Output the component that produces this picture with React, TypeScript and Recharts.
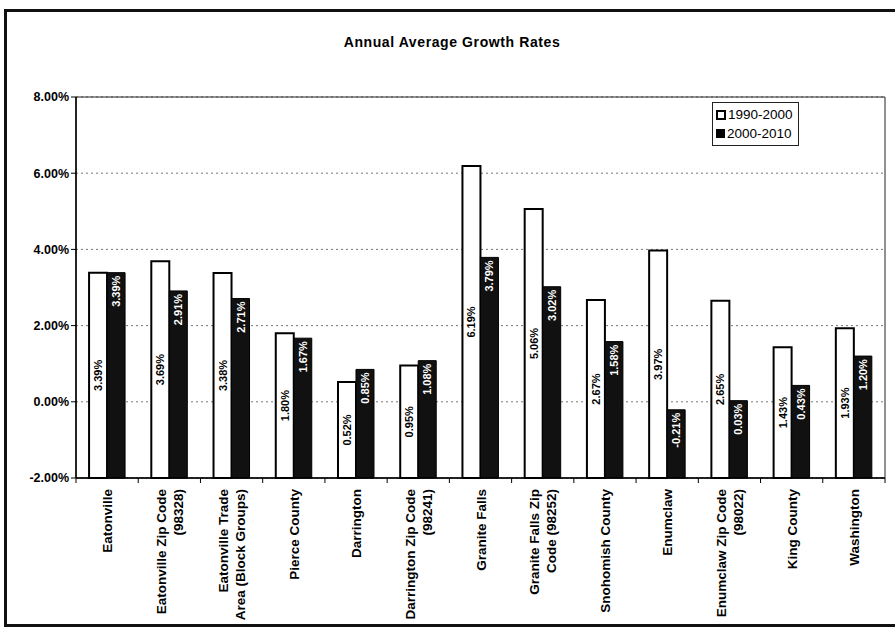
import { BarChart, Bar, XAxis, YAxis, CartesianGrid, LabelList, Legend, ReferenceArea } from "recharts";

// categories, each split into the lines shown under the axis
const placeLines: string[][] = [
  ["Eatonville"],
  ["Eatonville Zip Code", "(98328)"],
  ["Eatonville Trade", "Area (Block Groups)"],
  ["Pierce County"],
  ["Darrington"],
  ["Darrington Zip Code", "(98241)"],
  ["Granite Falls"],
  ["Granite Falls Zip", "Code (98252)"],
  ["Snohomish County"],
  ["Enumclaw"],
  ["Enumclaw Zip Code", "(98022)"],
  ["King County"],
  ["Washington"],
];
const places = placeLines.map((l) => l.join(" "));

const growth1990s = [3.39, 3.69, 3.38, 1.8, 0.52, 0.95, 6.19, 5.06, 2.67, 3.97, 2.65, 1.43, 1.93];
const growth2000s = [3.39, 2.91, 2.71, 1.67, 0.85, 1.08, 3.79, 3.02, 1.58, -0.21, 0.03, 0.43, 1.2];

const yTicks = [-2, 0, 2, 4, 6, 8];
const seriesNames = ["1990-2000", "2000-2010"];

const FONT = "'Liberation Sans', Arial, sans-serif";
const W = 896;
const H = 630;
const MARGIN = { top: 97, right: 11, bottom: 12, left: 14 };
const Y_AXIS_W = 62;
const X_AXIS_H = 140;
const PLOT_W = W - MARGIN.left - Y_AXIS_W - MARGIN.right;
const STEP = PLOT_W / places.length;
const FLOOR = yTicks[0];

const rows = places.map((place, i) => ({
  place,
  a: growth1990s[i],
  b: growth2000s[i],
}));

const pct = (v: number) => `${v.toFixed(2)}%`;

function PlaceTick(props: any) {
  const { x, y, index } = props;
  const lines = placeLines[index] || [];
  const lh = 17.5;
  return (
    <g>
      <line x1={x - STEP / 2} x2={x - STEP / 2} y1={y} y2={y + 5} stroke="#000" />
      {index === places.length - 1 && (
        <line x1={x + STEP / 2} x2={x + STEP / 2} y1={y} y2={y + 5} stroke="#000" />
      )}
      <text
        transform={`translate(${x},${y + 11}) rotate(-90)`}
        textAnchor="middle"
        fontSize={13.5}
        fontWeight="bold"
        fontFamily={FONT}
        fill="#000"
      >
        {lines.map((ln, i) => (
          <tspan key={i} x={0} y={(i - (lines.length - 1) / 2) * lh + 5} textAnchor="end">
            {ln}
          </tspan>
        ))}
      </text>
    </g>
  );
}

function MidLabel(props: any) {
  const { x, y, width, height, index } = props;
  const top = Math.min(y, y + height);
  const cx = x + width / 2;
  const cy = top + Math.abs(height) / 2;
  return (
    <text
      x={cx}
      y={cy}
      transform={`rotate(-90 ${cx} ${cy})`}
      textAnchor="middle"
      dominantBaseline="central"
      fontSize={11}
      fontWeight="bold"
      fontFamily={FONT}
      fill="#000"
    >
      {pct(growth1990s[index])}
    </text>
  );
}

function TopLabel(props: any) {
  const { x, y, width, height, index } = props;
  const top = Math.min(y, y + height);
  const cx = x + width / 2;
  const ty = top + 3;
  return (
    <text
      x={cx}
      y={ty}
      transform={`rotate(-90 ${cx} ${ty})`}
      textAnchor="end"
      dominantBaseline="central"
      fontSize={11}
      fontWeight="bold"
      fontFamily={FONT}
      fill="#fff"
    >
      {pct(growth2000s[index])}
    </text>
  );
}

function LegendBox() {
  return (
    <div
      style={{
        border: "1.5px solid #222",
        padding: "2px 5px 2px 3px",
        fontFamily: FONT,
        fontSize: 13.5,
        lineHeight: "19px",
        background: "#fff",
      }}
    >
      {seriesNames.map((name, i) => (
        <div key={name} style={{ display: "flex", alignItems: "center" }}>
          <span
            style={{
              display: "inline-block",
              width: i === 0 ? 6 : 9,
              height: i === 0 ? 6 : 9,
              border: i === 0 ? "2px solid #000" : "none",
              background: i === 0 ? "#fff" : "#000",
              marginRight: 2,
            }}
          />
          {name}
        </div>
      ))}
    </div>
  );
}

export default function App() {
  return (
    <div>
      <div
        style={{
          position: "absolute",
          left: 4,
          top: 9,
          width: 888,
          height: 612,
          borderLeft: "3px solid #111",
          borderTop: "3px solid #111",
          borderBottom: "3px solid #111",
        }}
      />
      <div
        style={{
          position: "absolute",
          left: 0,
          top: 34,
          width: 904,
          textAlign: "center",
          fontFamily: FONT,
          fontSize: 14,
          letterSpacing: 0.6,
          fontWeight: "bold",
        }}
      >
        Annual Average Growth Rates
      </div>
      <div style={{ position: "absolute", left: 0, top: 0 }}>
        <BarChart
          width={W}
          height={H}
          data={rows}
          margin={MARGIN}
          barCategoryGap="21%"
          barGap={0}
        >
          <CartesianGrid vertical={false} stroke="#777" strokeDasharray="2 3" />
          <ReferenceArea y1={yTicks[0]} y2={yTicks[yTicks.length - 1]} fill="none" stroke="#222" strokeWidth={1} />
          <XAxis
            dataKey="place"
            interval={0}
            height={X_AXIS_H}
            tickSize={0}
            tickMargin={0}
            tickLine={false}
            axisLine={{ stroke: "#000", strokeWidth: 1.5 }}
            tick={<PlaceTick />}
          />
          <YAxis
            domain={[yTicks[0], yTicks[yTicks.length - 1]]}
            ticks={yTicks}
            width={Y_AXIS_W}
            tickFormatter={pct}
            tickSize={5}
            tick={{ fontSize: 12.5, fontWeight: "bold", fill: "#000", fontFamily: FONT }}
            axisLine={{ stroke: "#000", strokeWidth: 1.5 }}
            tickLine={{ stroke: "#000" }}
          />
          <Legend
            layout="vertical"
            align="center"
            verticalAlign="middle"
            content={<LegendBox />}
            wrapperStyle={{ left: 712, top: 102, width: "auto" }}
          />
          <Bar
            name={seriesNames[0]}
            dataKey={(d: any) => [FLOOR, d.a]}
            fill="#fff"
            stroke="#000"
            strokeWidth={2}
            isAnimationActive={false}
          >
            <LabelList content={<MidLabel />} />
          </Bar>
          <Bar
            name={seriesNames[1]}
            dataKey={(d: any) => [FLOOR, d.b]}
            fill="#111"
            stroke="#000"
            strokeWidth={1}
            isAnimationActive={false}
          >
            <LabelList content={<TopLabel />} />
          </Bar>
        </BarChart>
      </div>
    </div>
  );
}
